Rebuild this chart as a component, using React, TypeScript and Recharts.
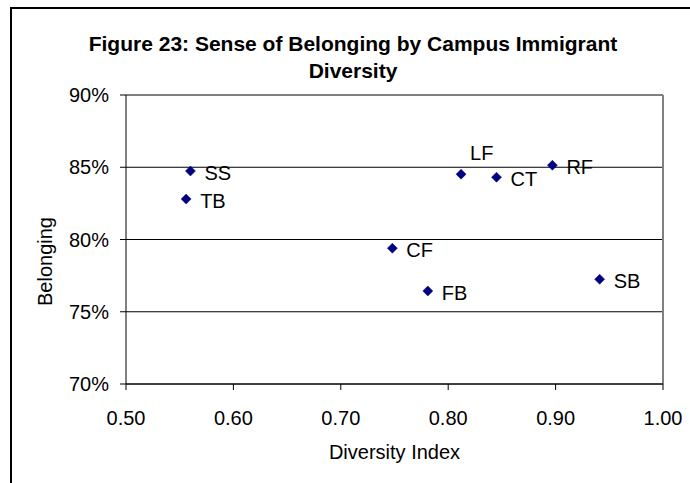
import React from 'react';
import { ScatterChart, Scatter, XAxis, YAxis, CartesianGrid, ReferenceLine } from 'recharts';

const campuses = ['SS', 'TB', 'LF', 'CT', 'RF', 'CF', 'FB', 'SB'];
const diversityIndex = [0.560, 0.556, 0.812, 0.845, 0.897, 0.748, 0.781, 0.941];
const belonging = [0.8474, 0.8280, 0.8452, 0.8431, 0.8514, 0.7940, 0.7644, 0.7725];
const xTicks = [0.5, 0.6, 0.7, 0.8, 0.9, 1.0];
const yTicks = [0.7, 0.75, 0.8, 0.85, 0.9];

const data = campuses.map((name, i) => ({ name, x: diversityIndex[i], y: belonging[i] }));

const FONT = '"Liberation Sans", Arial, sans-serif';
const NAVY = '#000080';

const DiamondWithLabel = (props: any) => {
  const { cx, cy, payload } = props;
  if (cx == null || cy == null) return null;
  const s = 5;
  const above = payload.name === 'LF';
  const tx = above ? cx + 9 : cx + 14;
  const ty = above ? cy - 14 : cy + 9;
  return (
    <g>
      <polygon
        points={`${cx},${cy - s} ${cx + s},${cy} ${cx},${cy + s} ${cx - s},${cy}`}
        fill={NAVY}
        stroke={NAVY}
        strokeWidth={0.5}
      />
      <text x={tx} y={ty} fontSize={20} fontFamily={FONT} fill="#000">
        {payload.name}
      </text>
    </g>
  );
};

const YLabel = (props: any) => {
  const vb = props.viewBox || {};
  const x = 45;
  const y = (vb.y ?? 95) + (vb.height ?? 289) / 2 + 22;
  return (
    <text
      x={x}
      y={y}
      transform={`rotate(-90, ${x}, ${y})`}
      textAnchor="middle"
      dominantBaseline="central"
      fontSize={20}
      fontFamily={FONT}
      fill="#000"
    >
      Belonging
    </text>
  );
};

const XLabel = (props: any) => {
  const vb = props.viewBox || {};
  const x = (vb.x ?? 126) + (vb.width ?? 537) / 2;
  return (
    <text x={x} y={459} textAnchor="middle" fontSize={20} fontFamily={FONT} fill="#000">
      Diversity Index
    </text>
  );
};

export default function App() {
  return (
    <div
      style={{
        position: 'fixed',
        left: 0,
        top: 0,
        width: 690,
        height: 483,
        overflow: 'hidden',
        background: '#fff',
      }}
    >
      <div
        style={{
          position: 'absolute',
          left: 10,
          top: 7,
          width: 800,
          height: 600,
          borderTop: '2px solid #000',
          borderLeft: '2px solid #000',
        }}
      />
      <svg
        width={690}
        height={90}
        style={{ position: 'absolute', left: 0, top: 0 }}
      >
        <text x={353} y={51} textAnchor="middle" fontSize={21} fontWeight="bold" fontFamily={FONT} fill="#000">
          Figure 23: Sense of Belonging by Campus Immigrant
        </text>
        <text x={353} y={78} textAnchor="middle" fontSize={21} fontWeight="bold" fontFamily={FONT} fill="#000">
          Diversity
        </text>
      </svg>
      <div style={{ position: 'absolute', left: 0, top: 0 }}>
        <ScatterChart
          width={690}
          height={483}
          margin={{ top: 95, right: 27, bottom: 39, left: 0 }}
        >
          <CartesianGrid horizontal={true} vertical={false} stroke="#000" strokeWidth={1} />
          <XAxis
            type="number"
            dataKey="x"
            domain={[0.5, 1]}
            ticks={xTicks}
            tickFormatter={(v: number) => v.toFixed(2)}
            height={60}
            tickSize={6}
            tickMargin={21}
            axisLine={{ stroke: '#000' }}
            tickLine={{ stroke: '#000' }}
            tick={{ fontSize: 20, fontFamily: FONT, fill: '#000' }}
            interval={0}
            allowDataOverflow
            label={<XLabel />}
          />
          <YAxis
            type="number"
            dataKey="y"
            domain={[0.7, 0.9]}
            ticks={yTicks}
            tickFormatter={(v: number) => `${Math.round(v * 100)}%`}
            width={126}
            tickSize={6}
            tickMargin={11}
            axisLine={{ stroke: '#000' }}
            tickLine={{ stroke: '#000' }}
            tick={{ fontSize: 20, fontFamily: FONT, fill: '#000' }}
            interval={0}
            allowDataOverflow
            label={<YLabel />}
          />
          <ReferenceLine y={0.9} stroke="#808080" strokeWidth={1} />
          <ReferenceLine x={1} stroke="#808080" strokeWidth={2} />
          <Scatter data={data} shape={<DiamondWithLabel />} isAnimationActive={false} />
        </ScatterChart>
      </div>
    </div>
  );
}
